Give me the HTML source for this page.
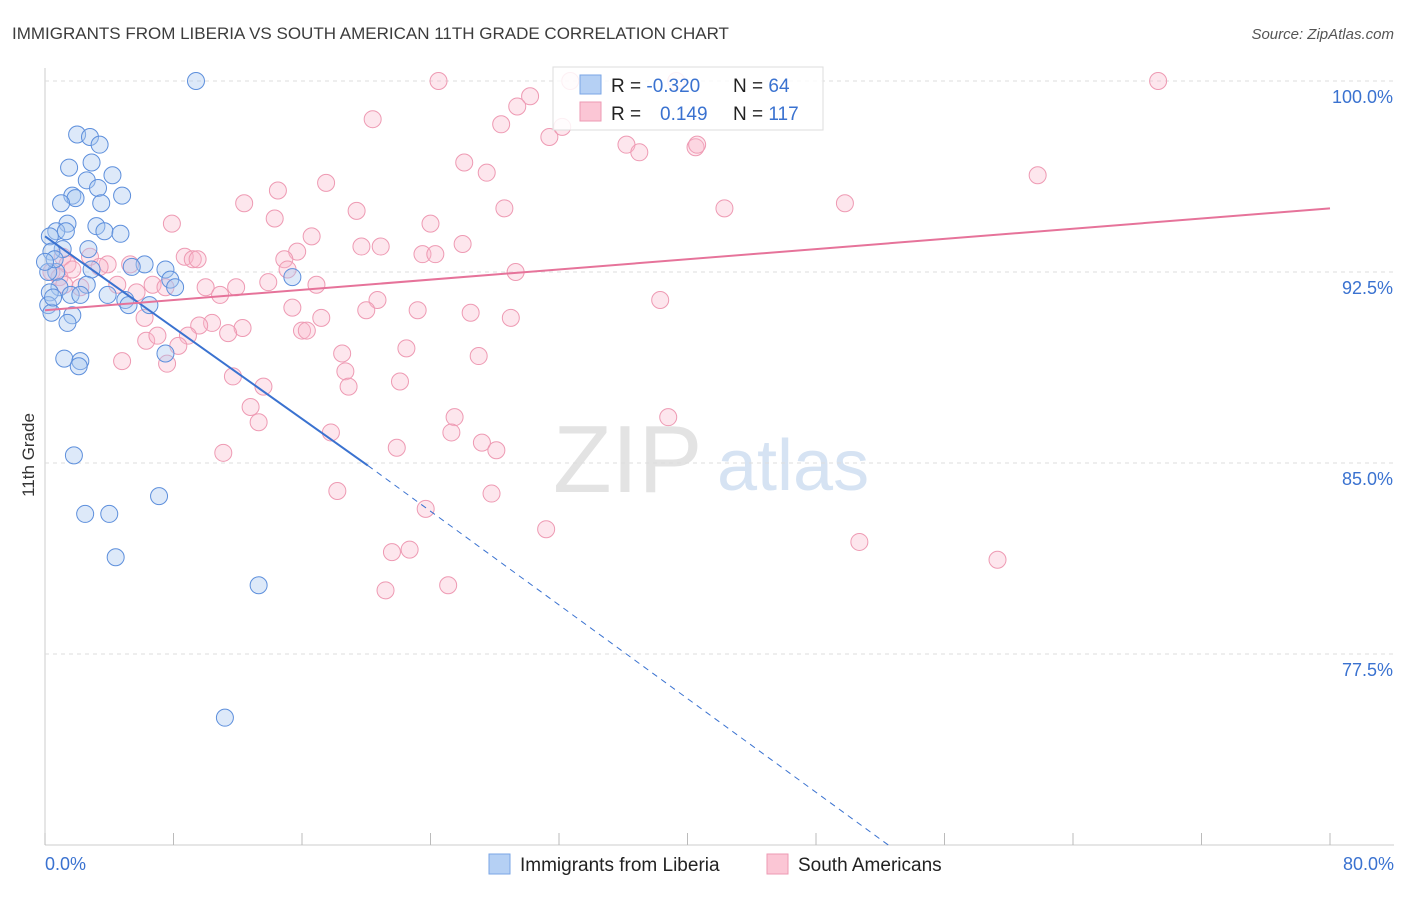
<!DOCTYPE html>
<html><head><meta charset="utf-8"><style>
body{margin:0;background:#fff;font-family:"Liberation Sans",sans-serif;}
svg text{font-family:"Liberation Sans",sans-serif;}
</style></head><body>
<svg id="chart" width="1406" height="892" xmlns="http://www.w3.org/2000/svg">
<text x="12" y="39" font-size="17" fill="#3c3c3c">IMMIGRANTS FROM LIBERIA VS SOUTH AMERICAN 11TH GRADE CORRELATION CHART</text>
<text x="1394" y="39" font-size="15" fill="#555" font-style="italic" text-anchor="end">Source: ZipAtlas.com</text>
<text x="34" y="455" font-size="17" fill="#333" transform="rotate(-90 34 455)" text-anchor="middle">11th Grade</text>
<g><text x="553" y="492" font-size="96" fill="#e3e3e3" font-family="Liberation Serif">ZIP</text><text x="717" y="490" font-size="72" fill="#d6e3f3">atlas</text></g>
<g id="grid"></g><g id="pts"></g><g id="lines"></g>
<g>
<rect x="553" y="67" width="270" height="63" fill="#fff" fill-opacity="0.85" stroke="#ddd"/>
<rect x="580" y="75" width="21" height="19" fill="#b5d0f4" stroke="#7aa6e6"/>
<rect x="580" y="102" width="21" height="19" fill="#fbc6d5" stroke="#ee9ab3"/>
<text x="611" y="92" font-size="19" fill="#222">R = <tspan fill="#3a72d0">-0.320</tspan></text>
<text x="733" y="92" font-size="19" fill="#222">N = <tspan fill="#3a72d0"> 64</tspan></text>
<text x="611" y="120" font-size="19" fill="#222">R = <tspan fill="#3a72d0" x="660">0.149</tspan></text>
<text x="733" y="120" font-size="19" fill="#222">N = <tspan fill="#3a72d0">117</tspan></text>
</g>
<g>
<rect x="489" y="854" width="21" height="20" fill="#b5d0f4" stroke="#7aa6e6"/>
<text x="520" y="871" font-size="19" fill="#222">Immigrants from Liberia</text>
<rect x="767" y="854" width="21" height="20" fill="#fbc6d5" stroke="#ee9ab3"/>
<text x="798" y="871" font-size="19" fill="#222">South Americans</text>
</g>
</svg>
<script>
const yTicks=[100,92.5,85,77.5];
const yTickLabels=["100.0%","92.5%","85.0%","77.5%"];
const xTickCount=[0,8,16,24,32,40,48,56,64,72,80];
const blueX=[9.4,2.0,2.8,3.4,1.5,2.9,4.2,2.6,3.3,1.7,1.9,1.0,3.5,4.8,1.4,3.2,0.7,1.3,3.7,4.7,0.3,1.1,2.7,0.4,6.2,5.4,7.5,0.7,0.2,2.9,7.8,15.4,8.1,0.9,2.6,0.3,1.6,2.2,3.9,5.0,5.2,6.5,0.2,0.4,1.7,1.4,1.2,2.2,2.1,7.5,1.8,7.1,2.5,4.0,4.4,13.3,11.2,0.5,0.6,0.0];
const blueY=[100.0,97.9,97.8,97.5,96.6,96.8,96.3,96.1,95.8,95.5,95.4,95.2,95.2,95.5,94.4,94.3,94.1,94.1,94.1,94.0,93.9,93.4,93.4,93.3,92.8,92.7,92.6,92.5,92.5,92.6,92.2,92.3,91.9,91.9,92.0,91.7,91.6,91.6,91.6,91.4,91.2,91.2,91.2,90.9,90.8,90.5,89.1,89.0,88.8,89.3,85.3,83.7,83.0,83.0,81.3,80.2,75.0,91.5,93.0,92.9];
const pinkX=[24.5,32.7,69.3,39.3,30.2,29.4,20.4,28.4,31.4,32.2,36.2,37.0,40.5,40.6,26.1,27.5,17.5,14.5,61.8,12.4,28.6,19.4,7.9,14.3,24.0,42.3,49.8,16.6,26.0,19.7,20.9,23.5,24.3,15.7,8.7,9.2,9.5,14.9,3.9,5.3,1.1,1.4,2.8,3.4,0.4,0.9,1.7,29.3,15.1,13.9,16.9,6.7,7.5,10.0,11.9,10.9,4.5,5.7,1.2,2.2,20.7,38.3,15.4,20.0,23.2,26.5,29.0,17.2,6.2,10.4,9.6,12.3,11.4,16.0,16.3,8.9,8.3,6.3,7.0,18.5,22.5,27.0,4.8,7.6,18.7,11.7,13.6,18.9,22.1,12.8,25.5,38.8,13.3,17.8,25.3,27.2,28.1,21.9,11.1,18.2,27.8,23.7,31.2,50.7,21.6,22.7,59.3,21.2,25.1];
const pinkY=[100.0,100.0,100.0,100.0,99.4,99.0,98.5,98.3,97.8,98.2,97.5,97.2,97.4,97.5,96.8,96.4,96.0,95.7,96.3,95.2,95.0,94.9,94.4,94.6,94.4,95.0,95.2,93.9,93.6,93.5,93.5,93.2,93.2,93.3,93.1,93.0,93.0,93.0,92.8,92.8,93.1,92.8,93.1,92.7,92.5,92.3,92.6,92.5,92.6,92.1,92.0,92.0,91.9,91.9,91.9,91.6,92.0,91.7,92.0,91.9,91.4,91.4,91.1,91.0,91.0,90.9,90.7,90.7,90.7,90.5,90.4,90.3,90.1,90.2,90.2,90.0,89.6,89.8,90.0,89.3,89.5,89.2,89.0,88.9,88.6,88.4,88.0,88.0,88.2,87.2,86.8,86.8,86.6,86.2,86.2,85.8,85.5,85.6,85.4,83.9,83.8,83.2,82.4,81.9,81.5,81.6,81.2,80.0,80.2];
const blueTrend=[[0,93.9],[20.1,84.9],[52.5,70.0]];
const pinkTrend=[[0,91.0],[80,95.0]];
const X=v=>45+v/80*1285, Y=v=>81+(100-v)/7.5*191;
const NS="http://www.w3.org/2000/svg";
function mk(t,a,p){const e=document.createElementNS(NS,t);for(const k in a)e.setAttribute(k,a[k]);p.appendChild(e);return e;}
const grid=document.getElementById('grid'),pts=document.getElementById('pts'),lines=document.getElementById('lines');
mk('line',{x1:45,y1:68,x2:45,y2:845,stroke:'#ccc'},grid);
mk('line',{x1:45,y1:845,x2:1394,y2:845,stroke:'#ccc'},grid);
yTicks.forEach((v,i)=>{
 const l=mk('line',{x1:45,y1:Y(v),x2:1394,y2:Y(v),stroke:'#ddd','stroke-dasharray':'4,4'},grid);
 
 
 const t=mk('text',{x:1393,y:Y(v)+22,'font-size':18,fill:'#3a72d0','text-anchor':'end'},grid);
 t.textContent=yTickLabels[i];
 
 
});
xTickCount.forEach(v=>{
 const l=mk('line',{x1:X(v),y1:845,x2:X(v),y2:833,stroke:'#bbb'},grid);
 
 
});
let t=mk('text',{x:45,y:870,'font-size':18,fill:'#3a72d0'},grid);t.textContent='0.0%';


t=mk('text',{x:1394,y:870,'font-size':18,fill:'#3a72d0','text-anchor':'end'},grid);t.textContent='80.0%';


pinkX.forEach((v,i)=>{
 const c=mk('circle',{cx:X(v),cy:Y(pinkY[i]),r:8.5,fill:'#f8b8cb','fill-opacity':0.35,stroke:'#ee9ab3','stroke-width':1},pts);
 
 
});
blueX.forEach((v,i)=>{
 const c=mk('circle',{cx:X(v),cy:Y(blueY[i]),r:8.5,fill:'#a9c8f1','fill-opacity':0.4,stroke:'#5d8fdc','stroke-width':1},pts);
 
 
});
let l=mk('line',{x1:X(blueTrend[0][0]),y1:Y(blueTrend[0][1]),x2:X(blueTrend[1][0]),y2:Y(blueTrend[1][1]),stroke:'#3a72d0','stroke-width':2},lines);


l=mk('line',{x1:X(blueTrend[1][0]),y1:Y(blueTrend[1][1]),x2:X(blueTrend[2][0]),y2:Y(blueTrend[2][1]),stroke:'#3a72d0','stroke-width':1,'stroke-dasharray':'6,5'},lines);


l=mk('line',{x1:X(pinkTrend[0][0]),y1:Y(pinkTrend[0][1]),x2:X(pinkTrend[1][0]),y2:Y(pinkTrend[1][1]),stroke:'#e6739a','stroke-width':2},lines);


</script>
</body></html>
